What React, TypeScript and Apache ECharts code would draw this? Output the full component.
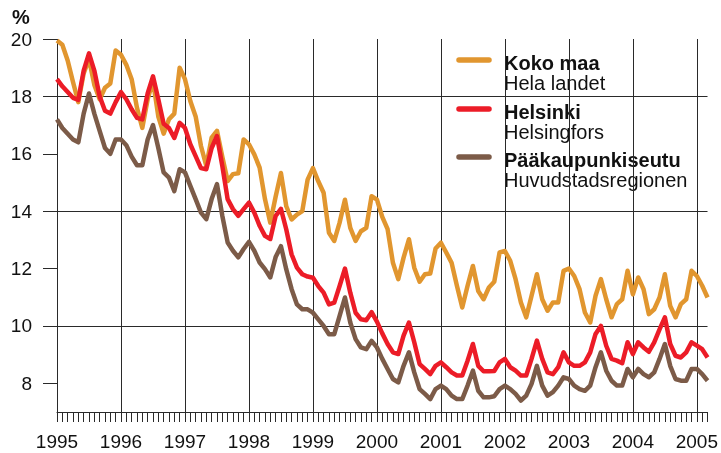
import React, { useEffect, useRef } from 'react';
import * as echarts from 'echarts';

// Monthly observations, Jan 1995 – Mar 2005 (index 0 = Jan 1995)
const yearLabels = ['1995', '1996', '1997', '1998', '1999', '2000', '2001', '2002', '2003', '2004', '2005'];

const kokoMaa = [
  19.95, 19.8, 19.25, 18.5, 17.8, 18.8, 19.3, 18.4, 17.9, 18.3, 18.45, 19.6,
  19.45, 19.1, 18.6, 17.6, 16.9, 17.9, 18.55, 17.3, 16.7, 17.2, 17.4, 19.0,
  18.6, 17.84, 17.3, 16.27, 15.58, 16.56, 16.8, 15.9, 15.05, 15.29, 15.32, 16.5,
  16.33, 15.98, 15.52, 14.42, 13.6, 14.5, 15.33, 14.17, 13.71, 13.88, 14.0, 15.1,
  15.5, 15.04, 14.64, 13.25, 12.96, 13.6, 14.4, 13.42, 12.96, 13.3, 13.42, 14.52,
  14.4, 13.8, 13.37, 12.2, 11.63, 12.38, 13.02, 12.03, 11.54, 11.8, 11.83, 12.7,
  12.9, 12.56, 12.2, 11.4, 10.64, 11.4, 12.09, 11.22, 10.93, 11.34, 11.54, 12.56,
  12.61, 12.27, 11.63, 10.82, 10.3, 11.05, 11.8, 10.93, 10.53, 10.82, 10.82, 11.92,
  12.0, 11.74, 11.28, 10.47, 10.12, 11.05, 11.63, 10.93, 10.3, 10.76, 10.93, 11.92,
  11.1, 11.69, 11.28, 10.41, 10.58, 10.99, 11.8, 10.7, 10.3, 10.76, 10.93, 11.92,
  11.74, 11.4, 10.99,
];

const helsinki = [
  18.6, 18.35, 18.15, 17.95, 17.88, 18.9, 19.5, 18.9, 18.0, 17.5, 17.4, 17.8,
  18.15, 17.9, 17.55, 17.25, 17.2, 18.1, 18.7, 17.9, 17.05, 16.9, 16.55, 17.08,
  16.9, 16.33, 15.92, 15.5, 15.46, 16.2, 16.62, 15.58, 14.42, 14.07, 13.84, 14.07,
  14.3, 13.95, 13.49, 13.14, 13.03, 13.83, 14.08, 13.36, 12.49, 12.03, 11.8, 11.72,
  11.68, 11.39, 11.16, 10.75, 10.81, 11.39, 12.0, 11.16, 10.46, 10.23, 10.2, 10.48,
  10.15, 9.74, 9.37, 9.08, 9.02, 9.66, 10.12, 9.43, 8.67, 8.5, 8.32, 8.61,
  8.73, 8.56, 8.38, 8.27, 8.27, 8.79, 9.37, 8.61, 8.42, 8.42, 8.43, 8.73,
  8.85, 8.56, 8.44, 8.27, 8.27, 8.85, 9.49, 8.85, 8.38, 8.32, 8.56, 9.08,
  8.73, 8.61, 8.61, 8.73, 9.08, 9.72, 10.0, 9.31, 8.85, 8.79, 8.7, 9.43,
  9.02, 9.43, 9.25, 9.1, 9.43, 9.88, 10.3, 9.37, 8.96, 8.9, 9.08, 9.43,
  9.31, 9.19, 8.9,
];

const paakaupunkiseutu = [
  17.2, 16.9, 16.7, 16.5, 16.4, 17.4, 18.1, 17.4, 16.8, 16.2, 16.0, 16.5,
  16.5, 16.3, 15.9, 15.6, 15.6, 16.5, 17.0, 16.2, 15.35, 15.17, 14.7, 15.46,
  15.35, 14.88, 14.42, 13.95, 13.72, 14.42, 14.94, 13.84, 12.91, 12.62, 12.39, 12.68,
  12.93, 12.62, 12.21, 11.98, 11.69, 12.4, 12.78, 11.97, 11.28, 10.75, 10.58, 10.58,
  10.46, 10.23, 10.0, 9.71, 9.71, 10.35, 10.99, 10.12, 9.54, 9.25, 9.19, 9.48,
  9.25, 8.85, 8.5, 8.15, 8.03, 8.61, 9.08, 8.38, 7.8, 7.63, 7.45, 7.8,
  7.92, 7.8, 7.57, 7.45, 7.45, 7.92, 8.44, 7.74, 7.51, 7.51, 7.55, 7.8,
  7.92, 7.8, 7.63, 7.4, 7.57, 7.98, 8.61, 7.92, 7.57, 7.69, 7.92, 8.21,
  8.15, 7.92, 7.8, 7.74, 7.92, 8.56, 9.08, 8.44, 8.09, 7.92, 7.92, 8.5,
  8.21, 8.5, 8.32, 8.21, 8.38, 8.85, 9.37, 8.61, 8.15, 8.09, 8.09, 8.5,
  8.5, 8.32, 8.09,
];

const seriesNames = ['Koko maa', 'Helsinki', 'Pääkaupunkiseutu'];
const seriesSubNames = ['Hela landet', 'Helsingfors', 'Huvudstadsregionen'];
const seriesColors = ['#E1962F', '#EC1C27', '#7C5B48'];
const yTickValues = [8, 10, 12, 14, 16, 18, 20];

const FONT = '"Liberation Sans", Arial, Helvetica, sans-serif';
const GRID = '#2a2a2a';

const toPoints = (arr: number[]) => arr.map((v, i) => [i, v]);

export default function App() {
  const ref = useRef<HTMLDivElement>(null);

  useEffect(() => {
    if (!ref.current) return;
    const chart = echarts.init(ref.current, undefined, { renderer: 'svg' });
    const allSeries = [kokoMaa, helsinki, paakaupunkiseutu];
    const lastIndex = kokoMaa.length - 1;

    const legendY = [60, 109, 157];
    const legendChildren: any[] = [
      { type: 'rect', shape: { x: 450, y: 45, width: 242, height: 154 }, style: { fill: '#ffffff' } },
    ];
    seriesNames.forEach((name, k) => {
      legendChildren.push({
        type: 'line',
        shape: { x1: 459, y1: legendY[k], x2: 489, y2: legendY[k] },
        style: { stroke: seriesColors[k], lineWidth: 5.5, lineCap: 'round' },
      });
      legendChildren.push({
        type: 'text',
        x: 504,
        y: legendY[k] + 3,
        style: { text: name, font: `bold 20px ${FONT}`, fill: '#111', verticalAlign: 'middle' },
      });
      legendChildren.push({
        type: 'text',
        x: 504,
        y: legendY[k] + 23,
        style: { text: seriesSubNames[k], font: `20px ${FONT}`, fill: '#111', verticalAlign: 'middle' },
      });
    });

    chart.setOption({
      animation: false,
      grid: { left: 57, right: 9, top: 39, bottom: 41 },
      xAxis: {
        type: 'value',
        min: 0,
        max: lastIndex,
        interval: 12,
        axisLine: { show: true, lineStyle: { color: GRID, width: 1 } },
        axisTick: { show: true, length: 10, lineStyle: { color: GRID, width: 1 } },
        minorTick: { show: true, splitNumber: 12, length: 10, lineStyle: { color: GRID, width: 1 } },
        splitLine: { show: true, showMaxLine: false, lineStyle: { color: GRID, width: 1 } },
        axisLabel: {
          margin: 20,
          fontSize: 19,
          fontFamily: FONT,
          color: '#111',
          formatter: (v: number) => (v % 12 === 0 ? yearLabels[v / 12] ?? '' : ''),
        },
      },
      yAxis: {
        type: 'value',
        min: 7,
        max: 20,
        interval: 1,
        axisLine: { show: false },
        axisTick: { show: true, length: 14, customValues: yTickValues, lineStyle: { color: GRID, width: 1 } },
        splitLine: { show: true, lineStyle: { color: ['rgba(0,0,0,0)', GRID], width: 1 } },
        axisLabel: {
          margin: 25,
          fontSize: 19,
          fontFamily: FONT,
          color: '#111',
          customValues: yTickValues,
          formatter: (v: number) => (v % 2 === 0 ? String(v) : ''),
        },
      },
      series: allSeries.map((arr, k) => ({
        name: seriesNames[k],
        type: 'line',
        data: toPoints(arr),
        showSymbol: false,
        symbol: 'none',
        lineStyle: { color: seriesColors[k], width: 4.5, join: 'round' },
        z: 3 + (k === 1 ? 2 : k === 2 ? 1 : 0),
      })),
      graphic: [
        {
          type: 'text',
          x: 12,
          y: 7,
          style: { text: '%', font: `bold 20px ${FONT}`, fill: '#111' },
        },
        { type: 'group', z: 100, children: legendChildren },
      ],
    });
    return () => chart.dispose();
  }, []);

  return <div ref={ref} style={{ position: 'fixed', left: 0, top: 0, width: 721, height: 453 }} />;
}
